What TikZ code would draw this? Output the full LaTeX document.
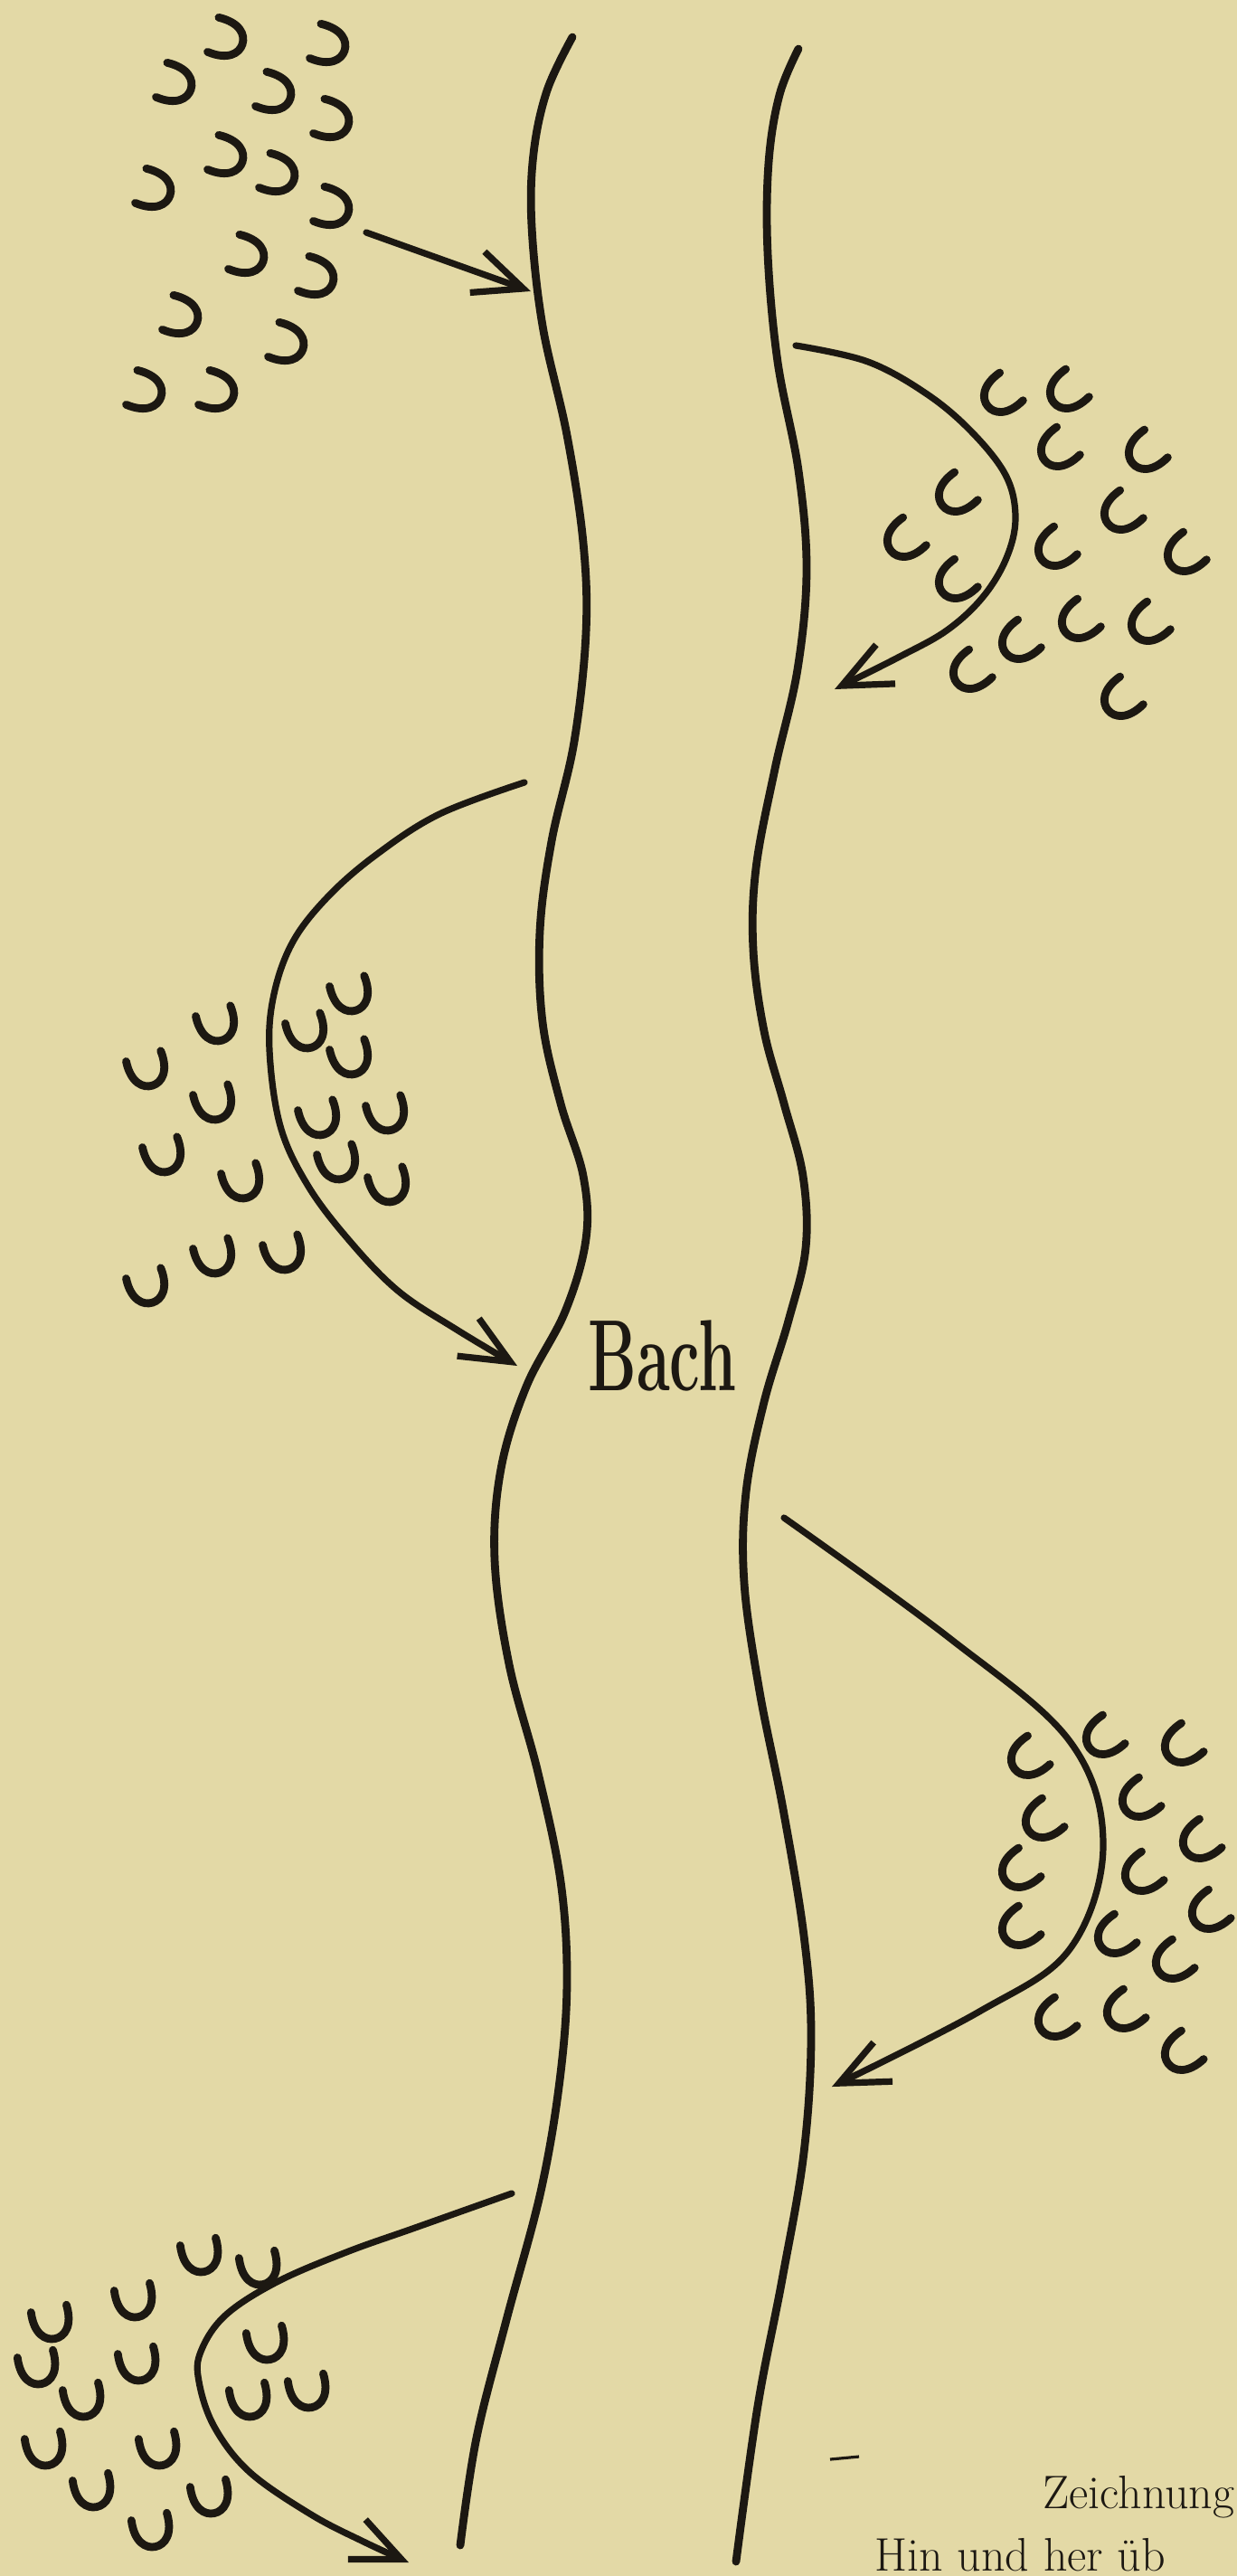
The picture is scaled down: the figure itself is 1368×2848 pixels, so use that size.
\documentclass[tikz,border=0pt]{standalone}
\usepackage{fontspec}
\usetikzlibrary{arrows.meta}
\definecolor{paper}{RGB}{227,217,166}
\definecolor{ink}{RGB}{28,24,18}
\begin{document}
\begin{tikzpicture}[x=0.5pt,y=-0.5pt,
  stream/.style={draw=ink,line width=4.4pt,line cap=round,line join=round},
  arrowline/.style={draw=ink,line width=3.6pt,line cap=round,-{Straight Barb[length=27pt,width=24pt]}},
  hoofline/.style={draw=ink,line width=4.4pt,line cap=round},
  hoof/.pic={\draw[hoofline] (-20,-15) .. controls (-22,9) and (-11,19) .. (0,19) .. controls (11,19) and (22,9) .. (20,-15);},
  caption/.style={anchor=base west,inner sep=0pt,text=ink,font=\fontsize{26}{30}\selectfont}]
\useasboundingbox (0,0) rectangle (1368,2848);
\fill[paper] (0,0) rectangle (1368,2848);

% left bank
\draw[stream] plot[smooth,tension=0.6] coordinates {(633,41) (605,100) (590,170) (588,250) (600,360) (627,481) (645,600) (648,700) (635,820) (610,930) (597,1030) (600,1130) (620,1220) (645,1300) (648,1370) (625,1450) (582,1533) (554,1624) (547,1724) (563,1840) (595,1960) (620,2080) (627,2190) (619,2300) (598,2423) (560,2565) (527,2695) (509,2814)};
% right bank
\draw[stream] plot[smooth,tension=0.6] coordinates {(883,54) (862,105) (850,180) (849,280) (860,400) (883,520) (892,630) (882,740) (857,850) (836,960) (833,1050) (845,1140) (867,1220) (888,1300) (891,1380) (872,1460) (845,1550) (825,1650) (823,1750) (840,1870) (866,2000) (889,2140) (897,2250) (889,2380) (865,2520) (838,2660) (814,2832)};

\node[anchor=base west,inner sep=0pt,text=ink,font=\fontsize{56}{64}\selectfont\bfseries] (bach) at (650,1537) {\scalebox{0.6}[1]{Bach}};

% arrows
\coordinate (a1s) at (405,257); \coordinate (a1e) at (587,322);
\draw[arrowline] (a1s) -- (a1e);
\coordinate (a2s) at (880,382); \coordinate (a2e) at (923,762);
\draw[arrowline] plot[smooth,tension=0.6] coordinates {(a2s) (960,400) (1027,437) (1077,480) (1113,527) (1123,573) (1113,617) (1087,660) (1047,697) (993,727) (a2e)};
\coordinate (a3s) at (580,865); \coordinate (a3e) at (572,1510);
\draw[arrowline] plot[smooth,tension=0.6] coordinates {(a3s) (486,900) (416,945) (363,991) (324,1041) (303,1099) (298,1161) (310,1245) (340,1310) (385,1370) (440,1427) (505,1470) (a3e)};
\coordinate (a4s) at (867,1678); \coordinate (a4e) at (920,2307);
\draw[arrowline] plot[smooth,tension=0.6] coordinates {(a4s) (1050,1811) (1183,1925) (1220,2040) (1183,2155) (1083,2224) (a4e)};
\coordinate (a5s) at (566,2425); \coordinate (a5e) at (452,2833);
\draw[arrowline] plot[smooth,tension=0.6] coordinates {(a5s) (459,2463) (383,2490) (306,2523) (249,2560) (222,2600) (220,2633) (237,2683) (276,2733) (344,2780) (402,2810) (a5e)};

% hoof prints
\foreach \p in {(250,43),(363,50),(193,93),(303,103),(367,133),(250,173),(307,193),(170,210),(367,230),(273,283),(350,307),(200,350),(317,380),(160,433),(240,433)}
  \pic[rotate=72] at \p {hoof};
\foreach \p in {(1107,437),(1180,433),(1170,497),(1267,500),(1057,547),(1240,567),(1000,597),(1167,607),(1310,613),(1057,643),(1193,687),(1270,690),(1127,710),(1073,743),(1240,773)}
  \pic[rotate=-50] at \p {hoof};
\foreach \p in {(388,1099),(240,1132),(339,1140),(163,1182),(388,1169),(237,1219),(353,1236),(428,1231),(181,1277),(268,1306),(374,1285),(430,1310),(237,1389),(314,1385),(163,1422)}
  \pic[rotate=17] at \p {hoof};
\foreach \p in {(1220,1921),(1307,1930),(1137,1944),(1260,1990),(1153,2013),(1327,2036),(1127,2068),(1263,2072),(1337,2114),(1127,2132),(1233,2141),(1297,2169),(1167,2233),(1243,2224),(1307,2270)}
  \pic[rotate=-52] at \p {hoof};
\foreach \p in {(222,2493),(287,2507),(149,2543),(57,2567),(295,2590),(153,2613),(42,2617),(341,2643),(92,2653),(276,2653),(50,2707),(176,2707),(103,2753),(233,2760),(168,2797)}
  \pic[rotate=12] at \p {hoof};

% stray dash and caption
\coordinate (d1) at (918,2719); \coordinate (d2) at (950,2716);
\draw[ink,line width=1.6pt] (d1) -- (d2);
\node[caption] (cap1) at (1153,2773) {Zeichnung};
\node[caption] (cap2) at (967,2842) {Hin und her üb};
\end{tikzpicture}
\end{document}
